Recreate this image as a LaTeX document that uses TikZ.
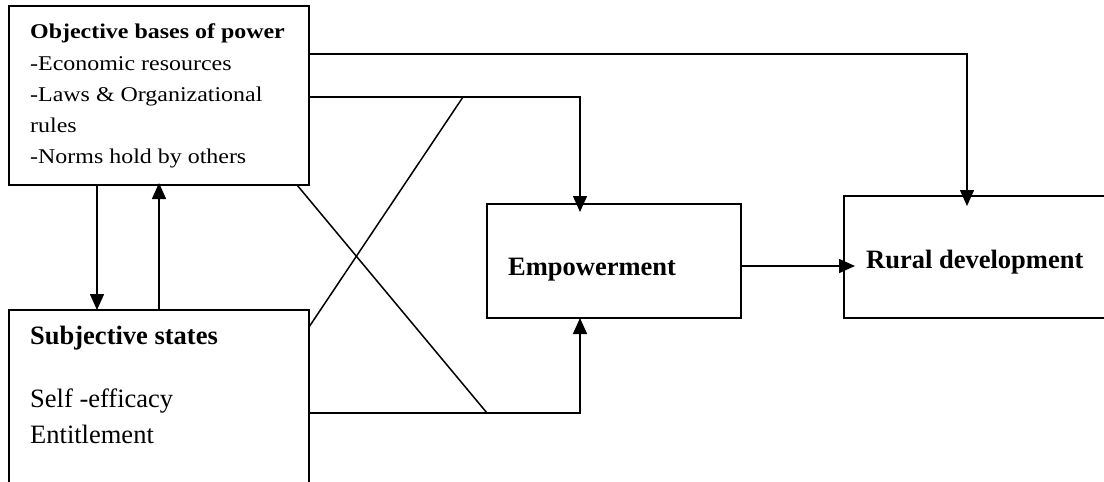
\documentclass[tikz,border=0pt]{standalone}
\usepackage{fontspec}
\setmainfont{Liberation Serif}
\newfontfamily\stretchfont{Liberation Serif}[FakeStretch=1.14]
\usetikzlibrary{arrows.meta,calc}
\begin{document}
\begin{tikzpicture}[x=1pt,y=-1pt,
  box/.style={draw,line width=1.5pt,inner sep=0pt,outer sep=0pt},
  openbox/.style={draw=none,inner sep=0pt,outer sep=0pt},
  edge/.style={line width=1.5pt},
  arr/.style={line width=1.5pt,-{Triangle[length=16pt,width=14pt]}},
  small/.style={anchor=base west,inner sep=0pt,font=\stretchfont\fontsize{21}{25}\selectfont},
  big/.style={anchor=base west,inner sep=0pt,font=\fontsize{26.5}{30}\selectfont}]
\useasboundingbox (0,0) rectangle (1104,482);
% boxes
\node[box,minimum width=300pt,minimum height=179pt] (obj) at (159,95.5) {};
\node[openbox,minimum width=300pt,minimum height=172pt] (subj) at (159,396) {};
\draw[edge] (subj.south west) -- (subj.north west) -- (subj.north east) -- (subj.south east);
\node[box,minimum width=254pt,minimum height=114pt] (emp) at (614,261) {};
\node[openbox,minimum width=262pt,minimum height=122pt] (rural) at (975,257) {};
\draw[edge] (rural.north east) -- (rural.north west) -- (rural.south west) -- (rural.south east);
% texts
\node[small] (t1) at (30,38) {\bfseries Objective bases of power};
\node[small] (t2) at (30,70) {-Economic resources};
\node[small] (t3) at (30,101) {-Laws \& Organizational};
\node[small] (t4) at (30,132) {rules};
\node[small] (t5) at (30,163) {-Norms hold by others};
\node[big] (s1) at (30,344) {\bfseries Subjective states};
\node[big] (s2) at (30,407) {Self -efficacy};
\node[big] (s3) at (30,443) {Entitlement};
\node[big] (e1) at (508,275) {\bfseries Empowerment};
\node[big] (r1) at (866,268) {\bfseries Rural development};
% connectors
\coordinate (k1) at ($(obj.north east)+(154,91)$);
\coordinate (k2) at ($(subj.north east)+(178,103)$);
\draw[arr] ($(obj.north east)+(0,48)$) -| ($(rural.north west)+(123,10)$);
\draw[arr] ($(obj.north east)+(0,91)$) -| ($(emp.north west)+(93,8)$);
\draw[edge] ($(subj.north east)+(0,17)$) -- (k1);
\draw[edge] ($(obj.south east)+(-12,0)$) -- (k2);
\draw[arr] ($(subj.north east)+(0,103)$) -| ($(emp.south west)+(93,0)$);
\draw[arr] ($(emp.east)+(0,5)$) -- ($(rural.west)+(11,9)$);
\draw[arr] ($(obj.south west)+(88,0)$) -- ($(subj.north west)+(88,0)$);
\draw[arr] ($(subj.north west)+(150,0)$) -- ($(obj.south west)+(150,-2)$);
\end{tikzpicture}
\end{document}
